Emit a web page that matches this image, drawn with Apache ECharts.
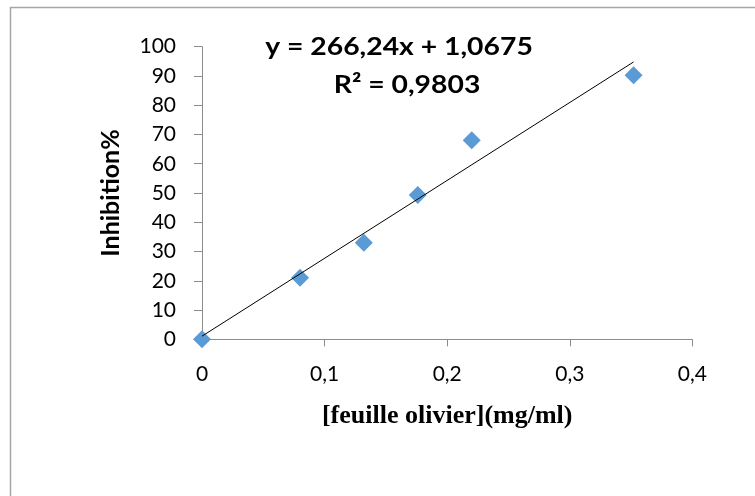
<!DOCTYPE html>
<html>
<head>
<meta charset="utf-8">
<script src="https://cdn.jsdelivr.net/npm/echarts@6/dist/echarts.min.js"></script>
<style>
  html, body { margin: 0; padding: 0; background: #ffffff; }
  #chart { width: 755px; height: 496px; }
</style>
</head>
<body>
<div id="chart"></div>
<script>
// Olive leaf extract concentration (mg/ml) vs. inhibition (%)
const concentration = [0, 0.08, 0.132, 0.176, 0.22, 0.352];
const inhibition = [0, 21, 33, 49.3, 68, 90.2];

// Linear trend line reported on the chart
const slope = 266.24;
const intercept = 1.0675;
const trendX = [0, 0.352];
const equationText = 'y = 266,24x + 1,0675';
const r2Text = 'R² = 0,9803';

const scatterData = concentration.map((x, i) => [x, inhibition[i]]);
const trendData = trendX.map(x => [x, slope * x + intercept]);

const axisGray = '#8c8c8c';
const fmt = v => String(v).replace('.', ',');

const chart = echarts.init(document.getElementById('chart'), null, { renderer: 'canvas' });
chart.setOption({
  backgroundColor: '#ffffff',
  animation: false,
  grid: { left: 202, right: 62.6, top: 46.7, bottom: 156.7, containLabel: false },
  xAxis: {
    type: 'value',
    min: 0, max: 0.4, interval: 0.1,
    name: '[feuille olivier](mg/ml)',
    nameLocation: 'middle',
    nameGap: 64,
    nameTextStyle: { fontFamily: 'Liberation Serif', fontWeight: 'bold', fontSize: 26, color: '#000' },
    axisLine: { lineStyle: { color: axisGray, width: 1 } },
    axisTick: { show: true, inside: false, length: 7, lineStyle: { color: axisGray } },
    axisLabel: { margin: 24, fontFamily: 'Lato', fontSize: 21, color: '#000', formatter: v => fmt(v) },
    splitLine: { show: false }
  },
  yAxis: {
    type: 'value',
    min: 0, max: 100, interval: 10,
    name: 'Inhibition%',
    nameLocation: 'middle',
    nameGap: 79,
    nameTextStyle: { fontFamily: 'Lato', fontWeight: 'bold', fontSize: 25, color: '#000' },
    axisLine: { show: true, lineStyle: { color: axisGray, width: 1 } },
    axisTick: { show: true, inside: false, length: 8, lineStyle: { color: axisGray } },
    axisLabel: { margin: 26, fontFamily: 'Lato', fontSize: 21, color: '#000' },
    splitLine: { show: false }
  },
  graphic: [
    {
      type: 'rect',
      shape: { x: 10.5, y: 7.5, width: 800, height: 600 },
      style: { fill: 'none', stroke: '#a6a6a6', lineWidth: 1.5 },
      silent: true, z: -1
    },
    {
      type: 'text',
      x: 399, y: 47, scaleX: 1.18,
      style: {
        text: equationText, fontFamily: 'Lato', fontWeight: 'bold', fontSize: 24,
        fill: '#000', align: 'center', verticalAlign: 'middle'
      }
    },
    {
      type: 'text',
      x: 407, y: 85, scaleX: 1.18,
      style: {
        text: r2Text, fontFamily: 'Lato', fontWeight: 'bold', fontSize: 24,
        fill: '#000', align: 'center', verticalAlign: 'middle'
      }
    }
  ],
  series: [
    {
      type: 'line',
      data: trendData,
      symbol: 'none',
      lineStyle: { color: '#000', width: 1 },
      z: 3
    },
    {
      type: 'scatter',
      data: scatterData,
      symbol: 'diamond',
      symbolSize: [18, 18],
      itemStyle: { color: '#5B9BD5', opacity: 1 },
      z: 2
    }
  ]
});
</script>
</body>
</html>
